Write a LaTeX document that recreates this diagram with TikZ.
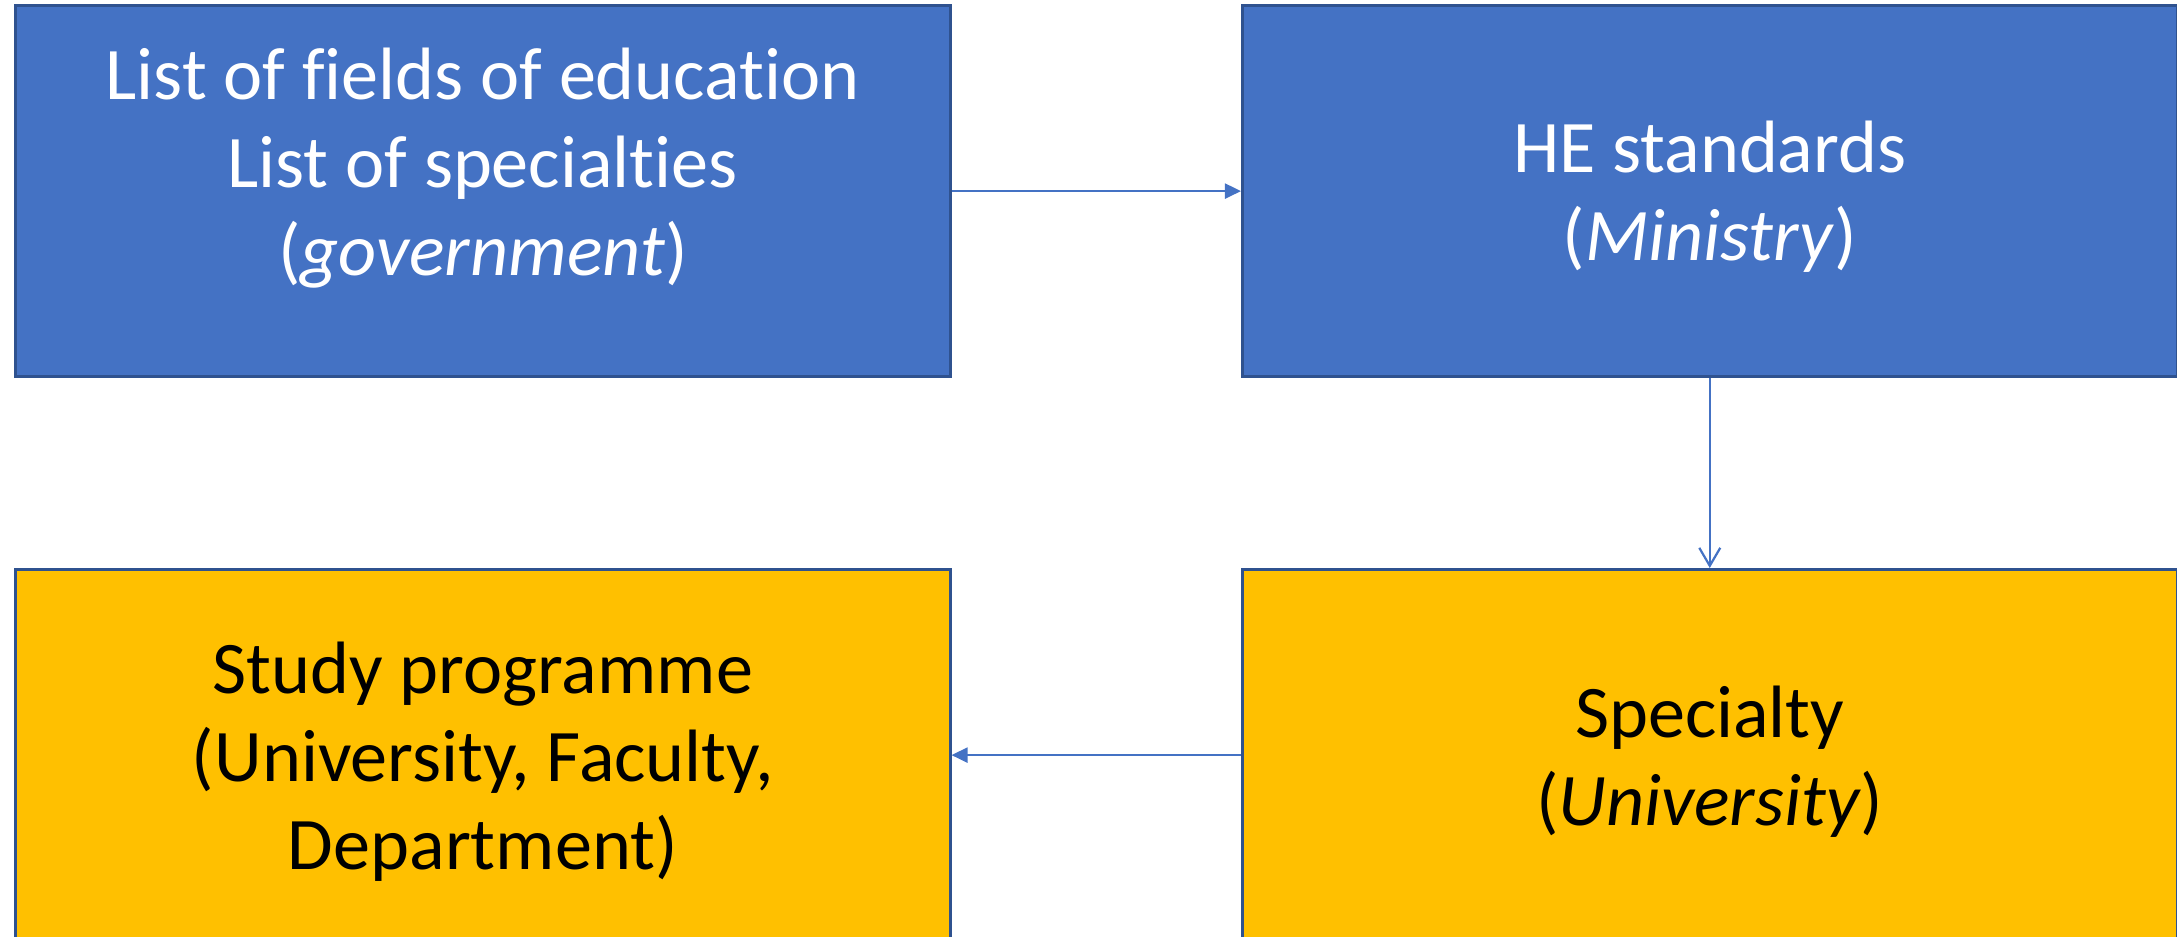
\documentclass[tikz,border=0pt]{standalone}
\usepackage{fontspec}
\setmainfont{Carlito}[Ligatures={NoCommon,NoRare,NoContextual}]
\usepackage{tikz}
\usetikzlibrary{arrows.meta}
\usetikzlibrary{positioning}

\definecolor{boxblue}{HTML}{4472C4}
\definecolor{boxedge}{HTML}{2F528F}
\definecolor{boxgold}{HTML}{FFC000}

\tikzset{
  box/.style={draw=boxedge,line width=0.03cm,minimum width=9.34cm,minimum height=3.71cm,inner sep=0pt,anchor=north west},
  bluebox/.style={box,fill=boxblue},
  goldbox/.style={box,fill=boxgold},
  boxtext/.style={align=center,font=\fontsize{21.1}{25}\selectfont},
  link/.style={draw=boxblue,line width=0.022cm},
}

\begin{document}
\begin{tikzpicture}[x=0.01cm,y=-0.01cm]
\useasboundingbox (0,0) rectangle (2177,937);
\clip (0,0) rectangle (2177,937);

% boxes
\node[bluebox] (fields) at (14,4) {};
\node[bluebox] (standards) at (1241,4) {};
\node[goldbox] (programme) at (14,568) {};
\node[goldbox] (specialty) at (1241,568) {};

% texts
\node[boxtext,text=white] (fieldstext) at ([yshift=0.23cm]fields.center) {List of fields of education\\List of specialties\\(\textit{government})};
\node[boxtext,text=white] (standardstext) at ([yshift=-0.06cm]standards.center) {HE standards\\(\textit{Ministry})};
\node[boxtext] (programmetext) at ([yshift=-0.07cm]programme.center) {Study programme\\(University, Faculty,\\Department)};
\node[boxtext] (specialtytext) at ([yshift=-0.07cm]specialty.center) {Specialty\\(\textit{University})};

% links
\draw[link,-{Triangle[length=0.16cm,width=0.15cm]}] (fields.east) -- (standards.west);
\draw[link,-{Straight Barb[length=0.18cm,width=0.21cm]}] (standards.south) -- (specialty.north);
\draw[link,-{Triangle[length=0.16cm,width=0.15cm]}] (specialty.west) -- (programme.east);
\end{tikzpicture}
\end{document}
